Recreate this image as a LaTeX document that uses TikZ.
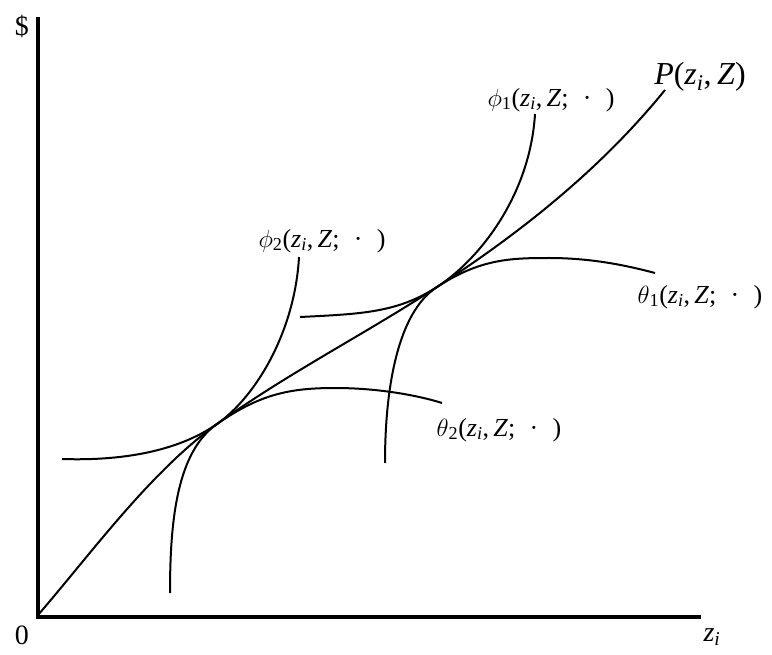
\documentclass[tikz,border=0pt]{standalone}
\usepackage{fontspec}
\setmainfont{Liberation Serif}
\newcommand{\lbsub}[1]{\textsubscript{#1}}
\newcommand{\zi}{\textit{z}\lbsub{\textit{i}}}
\newcommand{\argtail}{(\zi,\thinspace\textit{Z};\hspace{0.55em}·\hspace{0.55em})}
\tikzset{
  axisline/.style={line width=4.5pt, line cap=rect},
  curveline/.style={line width=2pt},
  lbl/.style={inner sep=0pt, font=\fontsize{26}{30}\selectfont},
  biglbl/.style={inner sep=0pt, font=\fontsize{32}{36}\selectfont},
  axislbl/.style={inner sep=0pt, font=\fontsize{28}{32}\selectfont},
}
\begin{document}
\begin{tikzpicture}[x=1pt,y=-1pt]
\useasboundingbox (0,0) rectangle (772,655);
% key points
\coordinate (O) at (38,615);
\coordinate (T1) at (217,424);
\coordinate (T2) at (437,287);
\coordinate (Pend) at (665,90);
\coordinate (ytop) at (38,19);
\coordinate (corner) at (38,617);
\coordinate (xend) at (699,617);
% axes
\draw[axisline] (ytop) -- (corner) -- (xend);
% P curve
\draw[curveline] (O) .. controls (90,555) and (150,472) .. (T1)
  .. controls (290,372) and (365,334) .. (T2)
  .. controls (520,233) and (600,170) .. (Pend);
% phi2
\draw[curveline] (170,593) .. controls (170,520) and (177,452) .. (T1)
  .. controls (257,396) and (295,330) .. (299,257);
% theta2
\draw[curveline] (62,459) .. controls (120,461) and (177,452) .. (T1)
  .. controls (260,394) and (290,388) .. (335,388)
  .. controls (380,388) and (420,396) .. (442,403);
% phi1
\draw[curveline] (385,463) .. controls (385,390) and (397,313) .. (T2)
  .. controls (480,259) and (530,195) .. (535,114);
% theta1
\draw[curveline] (300,317) .. controls (360,314) and (397,313) .. (T2)
  .. controls (480,259) and (510,258) .. (549,258)
  .. controls (590,258) and (625,265) .. (655,273);
% labels
\node[axislbl] (dollar) at (22,26) {\$};
\node[axislbl] (zero) at (22,635) {0};
\node[axislbl] (zlab) at (712,637) {\zi};
\node[biglbl] (Plab) at (700,77) {\textit{P}(\zi,\thinspace\textit{Z})};
\node[lbl] (phi1lab) at (551,100) {$\phi$\lbsub{1}\argtail};
\node[lbl] (phi2lab) at (322,241) {$\phi$\lbsub{2}\argtail};
\node[lbl] (th1lab) at (700,297) {$\theta$\lbsub{1}\argtail};
\node[lbl] (th2lab) at (499,430) {$\theta$\lbsub{2}\argtail};
\end{tikzpicture}
\end{document}
